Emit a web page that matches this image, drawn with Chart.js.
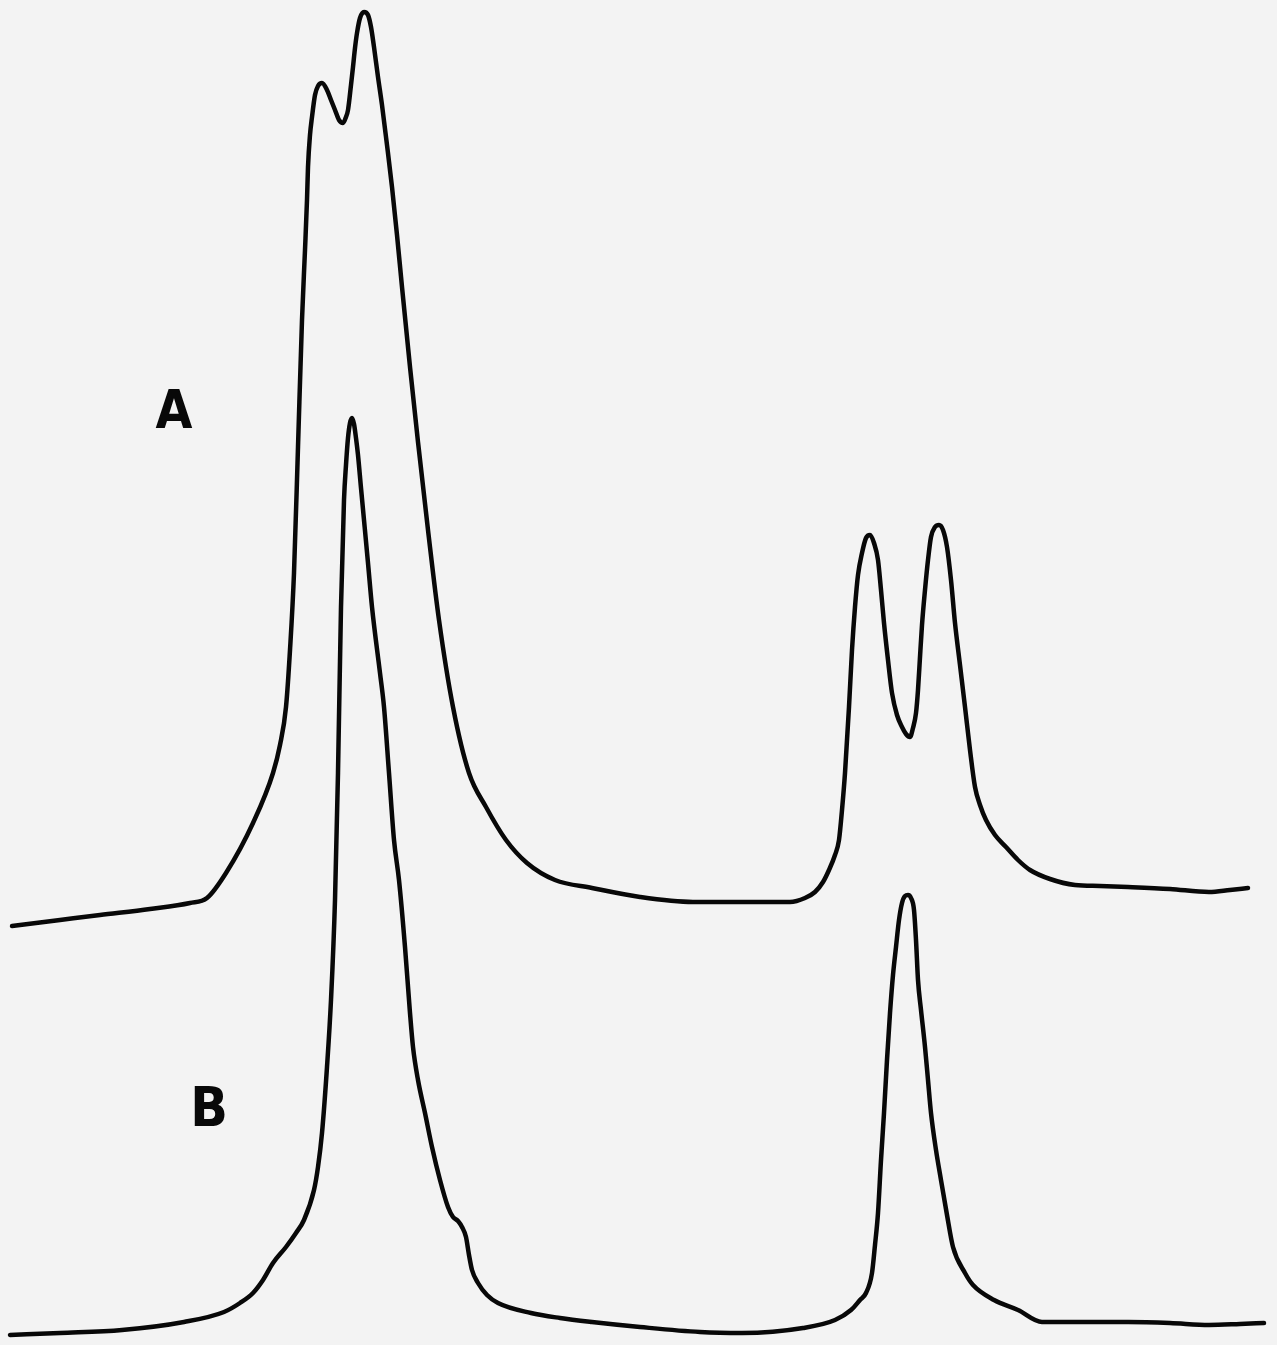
<!DOCTYPE html>
<html>
<head>
<meta charset="utf-8">
<script src="https://cdn.jsdelivr.net/npm/chart.js@4.4.1/dist/chart.umd.min.js"></script>
<style>
  html, body { margin: 0; padding: 0; background: #f3f3f3; }
  #wrap { width: 1277px; height: 1345px; position: relative; }
</style>
</head>
<body>
<div id="wrap"><canvas id="c"></canvas></div>
<script>
// Trace A (upper spectrum): position and signal height
const xA = [12,60,100,150,190,207,226,253,273,280,286,290,294,298,302,305,307,308,310,312,315,318,322,327,331,335,339,343,346,348,351,353,355,357,360,364,368,371,374,378,382,387,392,397,402,410,418,428,439,453,469,486,506,527,555,592,640,693,750,790,805,815,823,829,835,839,842,845,849,852,855,858,862,866,870,874,878,881,884,888,892,897,902,906,910,913,916,918,920,922,925,928,931,935,939,943,947,951,955,960,965,970,975,980,986,995,1006,1018,1030,1050,1075,1100,1128,1170,1209,1230,1248];
const yA = [419,425,430,436,442,447,472,522,572,600,638,695,772,898,1025,1095,1145,1178,1210,1228,1250,1259,1262,1255,1245,1235,1225,1222,1228,1235,1260,1278,1297,1312,1327,1333,1330,1318,1298,1268,1240,1200,1158,1110,1058,978,903,815,725,638,572,538,505,482,465,457,448,443,443,443,447,453,463,475,490,505,535,572,638,695,738,770,792,807,810,802,785,755,722,685,652,630,618,611,608,617,632,655,688,720,755,785,808,818,820,815,798,765,722,680,638,595,558,540,525,510,498,485,475,466,460,459,458,456,453,455,457];

// Trace B (lower spectrum)
const xB = [10,60,122,184,224,240,253,263,273,286,296,304,314,318,322,327,331,335,338,341,344,346,348,350,352,354,356,358,361,364,368,372,380,384,389,394,399,405,410,413,418,425,432,440,448,453,458,462,466,469,472,478,487,498,531,560,592,640,700,742,803,835,851,860,866,872,875,878,881,884,887,890,893,896,899,902,905,908,911,914,916,918,921,925,928,931,936,941,947,953,965,973,994,1018,1042,1080,1128,1170,1209,1240,1264];
const yB = [10,12,15,23,33,42,52,65,82,98,112,125,155,178,212,278,345,445,572,738,845,880,907,922,927,921,907,890,857,825,782,738,672,638,572,505,465,398,332,298,265,232,198,165,138,128,124,118,108,90,75,62,50,42,32,27,23,18,13,12,17,25,35,45,52,72,100,132,185,232,285,332,370,398,425,442,449,450,447,435,405,365,335,298,265,232,195,165,130,98,72,60,45,35,23,23,23,22,20,21,22];

// Trace labels and their anchor positions on the data scale
const labelText = ["A", "B"];
const labelX = [174, 209];
const labelY = [931, 233];

const toPts = (xs, ys) => xs.map((x, i) => ({ x: x, y: ys[i] }));

const labelPlugin = {
  id: 'traceLabels',
  afterDatasetsDraw(chart) {
    const { ctx, scales } = chart;
    ctx.save();
    ctx.fillStyle = '#080808';
    ctx.textAlign = 'center';
    ctx.textBaseline = 'middle';
    labelText.forEach((t, i) => {
      ctx.font = 'bold ' + (i === 0 ? '53px' : '55px') + ' "DejaVu Sans Condensed", "DejaVu Sans", sans-serif';
      ctx.fillText(t, scales.x.getPixelForValue(labelX[i]), scales.y.getPixelForValue(labelY[i]));
    });
    ctx.restore();
  }
};

const lineStyle = {
  borderColor: '#080808',
  borderWidth: 4.5,
  pointRadius: 0,
  fill: false,
  cubicInterpolationMode: 'monotone',
  borderCapStyle: 'round',
  borderJoinStyle: 'round'
};

new Chart(document.getElementById('c'), {
  type: 'line',
  data: {
    datasets: [
      Object.assign({ label: 'A', data: toPts(xA, yA) }, lineStyle),
      Object.assign({ label: 'B', data: toPts(xB, yB) }, lineStyle)
    ]
  },
  options: {
    responsive: true,
    maintainAspectRatio: false,
    animation: false,
    layout: { padding: 0 },
    plugins: { legend: { display: false }, tooltip: { enabled: false } },
    scales: {
      x: { type: 'linear', min: 0, max: 1277, display: false },
      y: { type: 'linear', min: 0, max: 1345, display: false }
    }
  },
  plugins: [labelPlugin]
});
</script>
</body>
</html>
